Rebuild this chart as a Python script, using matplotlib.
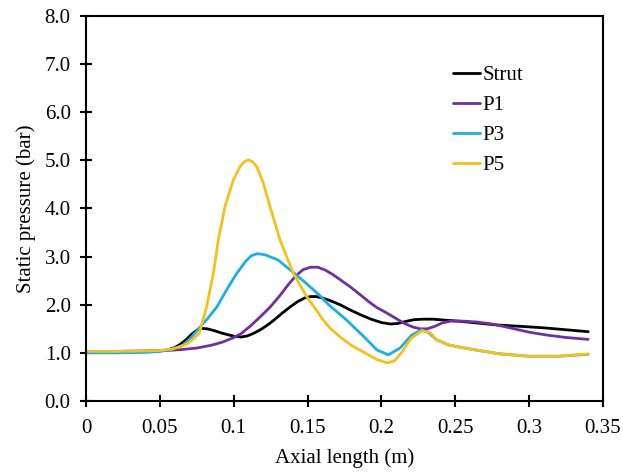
import numpy as np
import matplotlib.pyplot as plt
from matplotlib.ticker import FuncFormatter

plt.rcParams['font.family'] = ['Liberation Serif', 'DejaVu Serif']
plt.rcParams['font.size'] = 15

# axial position (m) and static pressure (bar) for each case
strut_x = [0, 0.02, 0.04, 0.05, 0.055, 0.06, 0.064, 0.068, 0.072, 0.075, 0.078, 0.082, 0.087,
           0.092, 0.097, 0.101, 0.105, 0.109, 0.113, 0.118, 0.123, 0.128, 0.133, 0.138, 0.143,
           0.148, 0.152, 0.156, 0.16, 0.165, 0.172, 0.179, 0.186, 0.193, 0.2, 0.206, 0.211,
           0.216, 0.222, 0.228, 0.235, 0.243, 0.252, 0.265, 0.278, 0.295, 0.31, 0.325, 0.34]
strut_p = [1.02, 1.02, 1.03, 1.04, 1.06, 1.11, 1.18, 1.28, 1.40, 1.47, 1.51, 1.50, 1.46,
           1.41, 1.37, 1.34, 1.33, 1.35, 1.40, 1.48, 1.58, 1.70, 1.83, 1.95, 2.06,
           2.14, 2.17, 2.17, 2.14, 2.09, 2.00, 1.89, 1.79, 1.70, 1.63, 1.60, 1.61,
           1.65, 1.69, 1.70, 1.70, 1.68, 1.66, 1.62, 1.58, 1.55, 1.52, 1.48, 1.44]

p1_x = [0, 0.02, 0.04, 0.055, 0.065, 0.075, 0.085, 0.092, 0.0995, 0.105, 0.111, 0.118,
        0.1246, 0.131, 0.137, 0.142, 0.147, 0.152, 0.157, 0.162, 0.167, 0.173, 0.179, 0.186,
        0.192, 0.197, 0.203, 0.209, 0.215, 0.221, 0.226, 0.231, 0.236, 0.241, 0.247, 0.255,
        0.265, 0.275, 0.287, 0.3, 0.312, 0.325, 0.34]
p1_p = [1.02, 1.03, 1.04, 1.05, 1.07, 1.10, 1.16, 1.22, 1.31, 1.40, 1.55, 1.75,
        1.95, 2.18, 2.42, 2.60, 2.73, 2.78, 2.78, 2.72, 2.63, 2.50, 2.37, 2.20,
        2.05, 1.94, 1.84, 1.73, 1.62, 1.54, 1.50, 1.50, 1.55, 1.62, 1.66, 1.66,
        1.64, 1.60, 1.52, 1.43, 1.37, 1.32, 1.28]

p3_x = [0, 0.02, 0.04, 0.05, 0.058, 0.065, 0.07, 0.074, 0.077, 0.082, 0.0885, 0.095, 0.102,
        0.108, 0.112, 0.1157, 0.119, 0.122, 0.13, 0.14, 0.15, 0.158, 0.165, 0.1765, 0.188,
        0.197, 0.2047, 0.2126, 0.2205, 0.2273, 0.232, 0.2374, 0.246, 0.26, 0.28, 0.3, 0.32,
        0.34]
p3_p = [1.00, 1.00, 1.01, 1.03, 1.07, 1.15, 1.28, 1.42, 1.53, 1.70, 1.95, 2.30, 2.65,
        2.90, 3.02, 3.06, 3.05, 3.03, 2.93, 2.68, 2.42, 2.20, 1.98, 1.68, 1.34,
        1.06, 0.96, 1.10, 1.37, 1.48, 1.42, 1.27, 1.16, 1.08, 0.98, 0.93, 0.93,
        0.97]

p5_x = [0, 0.02, 0.04, 0.05, 0.058, 0.064, 0.069, 0.073, 0.0767, 0.079, 0.0817, 0.0862,
        0.0896, 0.0941, 0.0997, 0.1043, 0.107, 0.1099, 0.1128, 0.1156, 0.12, 0.1246, 0.1313,
        0.1404, 0.1494, 0.1607, 0.165, 0.172, 0.18, 0.19, 0.197, 0.204, 0.209, 0.214, 0.22,
        0.2275, 0.233, 0.2374, 0.246, 0.26, 0.28, 0.3, 0.32, 0.34]
p5_p = [1.03, 1.03, 1.04, 1.05, 1.08, 1.13, 1.20, 1.30, 1.41, 1.65, 1.96, 2.65,
        3.35, 4.04, 4.59, 4.87, 4.97, 5.01, 4.97, 4.87, 4.53, 4.04, 3.35,
        2.65, 2.17, 1.68, 1.52, 1.33, 1.15, 0.98, 0.86, 0.79, 0.84, 1.02, 1.30,
        1.46, 1.42, 1.27, 1.16, 1.08, 0.98, 0.93, 0.93, 0.98]

series = [
    ('Strut', strut_x, strut_p, '#000000'),
    ('P1', p1_x, p1_p, '#7030A0'),
    ('P3', p3_x, p3_p, '#1AAFE6'),
    ('P5', p5_x, p5_p, '#F5C01A'),
]

fig = plt.figure(figsize=(6.23, 4.72), dpi=100)
ax = fig.add_axes([86 / 623, 1 - 401 / 472, 517 / 623, 385 / 472])

for name, x, p, c in series:
    ax.plot(x, p, color=c, lw=2.0, label=name,
            solid_capstyle='round', solid_joinstyle='round')

ax.set_xlim(0, 0.35)
ax.set_ylim(0, 8)
ax.set_xticks(np.arange(0, 0.351, 0.05))
ax.set_yticks(np.arange(0, 8.1, 1.0))
ax.xaxis.set_major_formatter(FuncFormatter(lambda v, pos: '%g' % round(v, 2)))
ax.yaxis.set_major_formatter(FuncFormatter(lambda v, pos: '%.1f' % v))
ax.tick_params(direction='inout', length=8, width=1.5, colors='black')
ax.tick_params(axis='y', pad=7)
ax.tick_params(axis='x', pad=9)
for s in ax.spines.values():
    s.set_linewidth(1.5)

ax.set_xlabel('Axial length (m)', labelpad=7)
ax.set_ylabel('Static pressure (bar)', labelpad=6)

ax.legend(loc='upper left', bbox_to_anchor=(0.69, 0.898), frameon=False,
          handlelength=1.3, handletextpad=0.1, labelspacing=0.5, borderpad=0)

fig.savefig('out.png', dpi=100)
